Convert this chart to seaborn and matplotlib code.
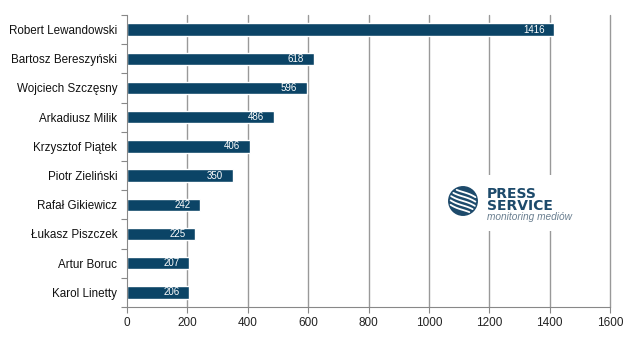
import matplotlib
matplotlib.use("Agg")
import matplotlib.pyplot as plt
import seaborn as sns
import pandas as pd
import numpy as np
from matplotlib.patches import Circle, Rectangle

players = ["Robert Lewandowski", "Bartosz Bereszyński", "Wojciech Szczęsny", "Arkadiusz Milik",
           "Krzysztof Piątek", "Piotr Zieliński", "Rafał Gikiewicz", "Łukasz Piszczek",
           "Artur Boruc", "Karol Linetty"]
values = [1416, 618, 596, 486, 406, 350, 242, 225, 207, 206]
xticks = [0, 200, 400, 600, 800, 1000, 1200, 1400, 1600]

sns.set_theme(style="white")
plt.rcParams['font.family'] = ['Liberation Sans', 'DejaVu Sans']

df = pd.DataFrame({"player": players, "value": values})
fig = plt.figure(figsize=(6.4, 3.41), dpi=100)
ax = fig.add_axes([127/640, 1 - 307/341, (610-127)/640, (307-15)/341])

bar_color = "#0b4466"
sns.barplot(data=df, y="player", x="value", color=bar_color, saturation=1, width=0.42, ax=ax, orient="h")

ax.set_xlim(0, 1600)
ax.set_ylim(len(players) - 0.5, -0.5)
ax.set_xticks(xticks)
ax.set_xticklabels([str(t) for t in xticks], fontsize=8.5, color="#222222")
ax.set_xlabel("")
ax.set_ylabel("")
ax.set_yticks(range(len(players)), players)
ax.tick_params(axis="y", labelsize=8.4, length=0, pad=7, labelcolor="#111111")
ax.set_yticks(np.arange(-0.5, len(players), 1), minor=True)
ax.tick_params(axis="y", which="minor", length=4, color="#888888", width=0.8, left=True)
ax.tick_params(axis="x", length=4, color="#888888", width=0.8, bottom=True, pad=3)
for t in xticks[1:]:
    ax.axvline(t, color="#999999", lw=1, zorder=0, clip_on=False)
ax.set_axisbelow(True)
for s in ["top", "right"]:
    ax.spines[s].set_visible(False)
for s in ["left", "bottom"]:
    ax.spines[s].set_color("#888888")
    ax.spines[s].set_linewidth(0.8)

for i, v in enumerate(values):
    ax.text(v - 32, i, str(v), color="white", fontsize=7, ha="right", va="center")

# logo
fig.patches.append(Rectangle((446/640, 1 - 231/341), 135/640, 56/341, transform=fig.transFigure,
                             facecolor="white", edgecolor="none", zorder=5))
lax = fig.add_axes([448/640, 1 - 216/341, 30/640, 30/341], zorder=6)
lax.set_xlim(-1, 1); lax.set_ylim(-1, 1); lax.set_aspect("equal"); lax.axis("off")
lax.add_patch(Circle((0, 0), 0.95, color="#1d4a6b"))
for k in range(-2, 3):
    off = k * 0.3
    xs = np.linspace(-0.9, 0.9, 50)
    ys = -0.6 * xs + off + 0.15 * np.sin(xs * 2)
    m = xs**2 + ys**2 < 0.75
    lax.plot(xs[m], ys[m], color="white", lw=1.3)
fig.text(487/640, 1 - 210/341, "PRESS\nSERVICE", fontsize=10, fontweight="bold", color="#1d4a6b",
         va="baseline", linespacing=0.8, zorder=7, family="DejaVu Sans")
fig.text(487/640, 1 - 217/341, "monitoring mediów", fontsize=7.3, style="italic", color="#6a7f90",
         va="center", zorder=7)

fig.savefig("out.png", dpi=100)
